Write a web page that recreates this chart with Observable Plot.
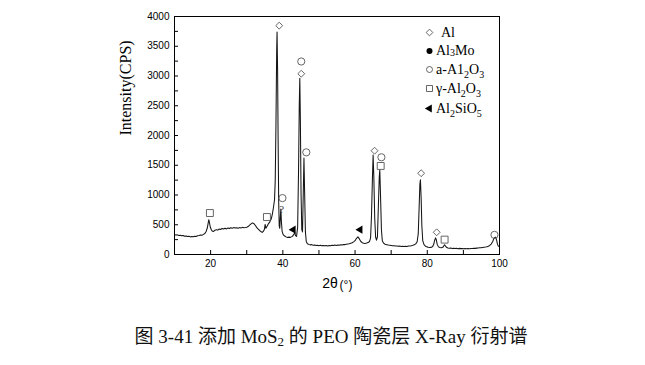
<!DOCTYPE html>
<html><head><meta charset="utf-8">
<script src="https://cdn.jsdelivr.net/npm/d3@7"></script>
<script src="https://cdn.jsdelivr.net/npm/@observablehq/plot@0.6"></script>
<style>
body{margin:0;background:#fff;width:645px;height:365px;position:relative;overflow:hidden}
#chart{position:absolute;left:0;top:0}
#cap{position:absolute;left:0;top:326px;width:662px;text-align:center;font-family:"Liberation Serif","Noto Sans CJK SC",serif;font-size:19px;color:#111;white-space:nowrap;line-height:22px}
#cap sub{font-size:13px;vertical-align:-3px;line-height:0}
</style></head><body>
<div id="chart"></div>
<div id="cap">图 3-41 添加 MoS<sub>2</sub> 的 PEO 陶瓷层 X-Ray 衍射谱</div>
<script>
// XRD pattern: [2θ (deg), intensity (CPS)]
const spectrum = [[10,332],[10.4,326],[10.8,330],[11.2,318],[11.6,322],[12,314],[12.4,320],[12.8,306],[13.2,312],[13.6,302],[14,308],[14.4,296],[14.8,304],[15.2,298],[15.6,308],[16,302],[16.4,314],[16.8,318],[17.2,326],[17.6,322],[18,338],[18.4,352],[18.8,392],[19.1,450],[19.3,520],[19.5,585],[19.7,530],[19.9,462],[20.2,415],[20.5,392],[20.8,388],[21.2,408],[21.6,418],[22,410],[22.4,428],[22.8,420],[23.2,438],[23.6,428],[24,442],[24.4,430],[24.8,446],[25.2,436],[25.6,450],[26,440],[26.4,452],[26.8,444],[27.2,448],[27.6,440],[28,452],[28.4,446],[28.8,456],[29.2,448],[29.6,452],[30,458],[30.4,470],[30.8,492],[31.2,515],[31.6,532],[32,518],[32.4,488],[32.8,452],[33.2,425],[33.6,400],[34,382],[34.3,372],[34.6,388],[34.9,425],[35.1,505],[35.3,440],[35.6,472],[36,515],[36.4,548],[36.8,600],[37.1,680],[37.4,790],[37.7,920],[37.9,1250],[38.1,2200],[38.3,3450],[38.4,3740],[38.55,3100],[38.7,1900],[38.85,900],[39.0,480],[39.15,440],[39.3,620],[39.45,765],[39.6,560],[39.8,390],[40.1,335],[40.5,310],[40.9,296],[41.3,286],[41.7,292],[42.1,288],[42.5,300],[42.8,315],[43.1,345],[43.3,372],[43.5,318],[43.8,305],[44.1,460],[44.35,1400],[44.55,2500],[44.7,2960],[44.85,2300],[45.05,1000],[45.25,420],[45.45,380],[45.65,1000],[45.85,1620],[46.05,1000],[46.25,380],[46.5,215],[46.8,182],[47.2,170],[47.6,162],[48,166],[48.4,156],[48.8,160],[49.2,152],[49.6,156],[50,148],[50.4,154],[50.8,146],[51.2,152],[51.6,146],[52,150],[52.4,144],[52.8,152],[53.2,146],[53.6,154],[54,150],[54.4,158],[54.8,152],[55.2,160],[55.6,156],[56,164],[56.4,160],[56.8,168],[57.2,166],[57.6,174],[58,178],[58.4,182],[58.8,190],[59.2,198],[59.6,212],[60,232],[60.4,272],[60.8,296],[61.2,262],[61.6,218],[62,198],[62.4,188],[62.8,186],[63.2,192],[63.6,200],[64,218],[64.3,280],[64.55,650],[64.8,1250],[65.0,1670],[65.2,1300],[65.45,600],[65.7,290],[65.95,240],[66.2,300],[66.45,800],[66.7,1300],[66.85,1420],[67.05,1000],[67.3,420],[67.55,230],[67.9,190],[68.3,172],[68.8,164],[69.2,158],[69.6,154],[70,150],[70.4,146],[70.8,148],[71.2,142],[71.6,144],[72,138],[72.4,142],[72.8,136],[73.2,140],[73.6,136],[74,140],[74.4,136],[74.8,142],[75.2,144],[75.6,148],[76,154],[76.4,162],[76.8,178],[77.2,215],[77.5,350],[77.75,800],[77.95,1180],[78.1,1255],[78.3,950],[78.5,480],[78.75,230],[79.1,165],[79.5,140],[79.9,128],[80.3,122],[80.7,118],[81.1,120],[81.5,135],[81.8,175],[82.05,240],[82.3,280],[82.5,250],[82.75,170],[83.1,128],[83.5,118],[83.9,114],[84.3,120],[84.6,148],[84.8,165],[85.0,146],[85.3,122],[85.7,110],[86.1,106],[86.5,108],[86.9,102],[87.3,106],[87.7,100],[88.1,104],[88.5,98],[88.9,103],[89.3,99],[89.7,102],[90.1,98],[90.5,101],[90.9,97],[91.3,100],[91.7,98],[92.1,102],[92.5,100],[92.9,104],[93.3,103],[93.7,107],[94.1,108],[94.5,112],[94.9,114],[95.3,118],[95.7,122],[96.1,126],[96.5,132],[96.9,140],[97.3,152],[97.7,175],[98.1,215],[98.4,262],[98.7,285],[98.95,292],[99.2,240],[99.45,170],[99.7,140],[100,128]];

// phase markers
const alX = [39.0, 45.1, 65.4, 78.3, 82.6];
const alY = [3846, 3038, 1744, 1366, 373];
const alphaX = [39.9, 45.1, 46.5, 67.3, 98.6];
const alphaY = [948, 3244, 1717, 1634, 330];
const gammaX = [19.8, 35.6, 67.1, 84.8];
const gammaY = [697, 630, 1488, 250];
const silX = [42.9, 61.4];
const silY = [418, 418];
const qX = [39.7];
const qY = [752];

// axes
const xTicks = [20, 40, 60, 80, 100];
const xMinor = [10, 30, 50, 70, 90];
const yTicks = [0, 500, 1000, 1500, 2000, 2500, 3000, 3500, 4000];
const yMinor = [250, 750, 1250, 1750, 2250, 2750, 3250, 3750];

// legend
const legendNames = ["Al", "Al3Mo", "a-A1_2O_3", "γ-Al_2O_3", "Al_2SiO_5"];
const legendSymbols = ["diamond2", "circle", "circle", "square", "triangle"];
const legendFill = ["none", "#000", "none", "none", "#000"];

const W = 645, H = 300, mL = 174, mR = 146, mT = 16, mB = 46;
const plotW = W - mL - mR, plotH = H - mT - mB;
const pts = (xs, ys) => xs.map((x, i) => ({x, y: ys[i]}));
const mk = "#555";
const legendRowsY = [32, 50.5, 69, 88, 108];
const legendX = 429;

const legendMarks = legendNames.map((n, i) => Plot.dot([n], {
  frameAnchor: "top-left", dx: legendX - mL, dy: legendRowsY[i] - mT,
  symbol: legendSymbols[i], r: i === 3 ? 3.4 : 3, rotate: i === 4 ? -90 : 0,
  fill: legendFill[i], stroke: legendFill[i] === "none" ? mk : "none", strokeWidth: 0.9
}));

const chart = Plot.plot({
  width: W, height: H,
  marginLeft: mL, marginRight: mR, marginTop: mT, marginBottom: mB,
  style: {background: "#fff", color: "#000"},
  x: {domain: [10, 100]},
  y: {domain: [0, 4000]},
  marks: [
    Plot.line(spectrum, {x: d => d[0], y: d => d[1], stroke: "#151515", strokeWidth: 1.05}),
    Plot.ruleX([...xTicks, ...xMinor], {x: d => d, insetTop: plotH - 4, stroke: "#000"}),
    Plot.ruleY([...yTicks, ...yMinor], {y: d => d, insetRight: plotW - 4, stroke: "#000"}),
    Plot.frame({stroke: "#000", strokeWidth: 1}),
    Plot.axisX(xTicks, {tickSize: 0, tickPadding: 5, fontSize: 10, fontFamily: "Liberation Sans", label: null, tickFormat: d => String(d)}),
    Plot.axisY(yTicks, {tickSize: 0, tickPadding: 5, fontSize: 10, fontFamily: "Liberation Sans", label: null, tickFormat: d => String(d)}),
    Plot.dot(pts(alX, alY), {x: "x", y: "y", symbol: "diamond2", r: 3.1, stroke: mk, strokeWidth: 0.9, fill: "none"}),
    Plot.dot(pts(alphaX, alphaY), {x: "x", y: "y", symbol: "circle", r: 3.6, stroke: mk, strokeWidth: 0.9, fill: "none"}),
    Plot.dot(pts(gammaX, gammaY), {x: "x", y: "y", symbol: "square", r: 3.9, stroke: mk, strokeWidth: 0.9, fill: "none"}),
    Plot.dot(pts(silX, silY), {x: "x", y: "y", symbol: "triangle", r: 3, rotate: -90, fill: "#000"}),
    Plot.text(pts(qX, qY), {x: "x", y: "y", text: () => "?", fontSize: 11, fontFamily: "Liberation Serif", fill: "#444"}),
    Plot.text(["2θ"], {frameAnchor: "bottom", dx: -7, dy: 33, text: d => d, fontSize: 14, fontFamily: "Liberation Sans"}),
    Plot.text(["(°)"], {frameAnchor: "bottom", dx: 9, dy: 34, text: d => d, fontSize: 12, fontFamily: "Liberation Sans"}),
    Plot.text(["Intensity(CPS)"], {frameAnchor: "left", dx: -49, rotate: -90, text: d => d, fontSize: 16, fontFamily: "Liberation Serif"}),
    ...legendMarks
  ]
});
document.getElementById("chart").appendChild(chart);

// legend labels with subscripts
const g = d3.select(chart).append("g")
  .attr("font-family", "Liberation Serif").attr("font-size", 14).attr("fill", "#000")
  .attr("text-anchor", "start");
legendNames.forEach((name, i) => {
  const t = g.append("text").attr("text-anchor", "start")
    .attr("x", i === 0 ? 441 : 436).attr("y", legendRowsY[i] + 4.5);
  const parts = [];
  let buf = "";
  for (let k = 0; k < name.length; k++) {
    if (name[k] === "_") { if (buf) parts.push([buf, 0]); buf = ""; parts.push([name[k + 1], 1]); k++; }
    else if (i === 1 && name[k] === "3") { if (buf) parts.push([buf, 0]); buf = ""; parts.push(["3", 2]); }
    else buf += name[k];
  }
  if (buf) parts.push([buf, 0]);
  let shift = 0;
  parts.forEach(([s, kind]) => {
    const ts = t.append("tspan").text(s);
    const target = kind === 1 ? 4 : kind === 2 ? 1 : 0;
    if (target !== shift) ts.attr("dy", target - shift);
    shift = target;
    if (kind) ts.attr("font-size", 10);
  });
});
</script>
</body></html>
